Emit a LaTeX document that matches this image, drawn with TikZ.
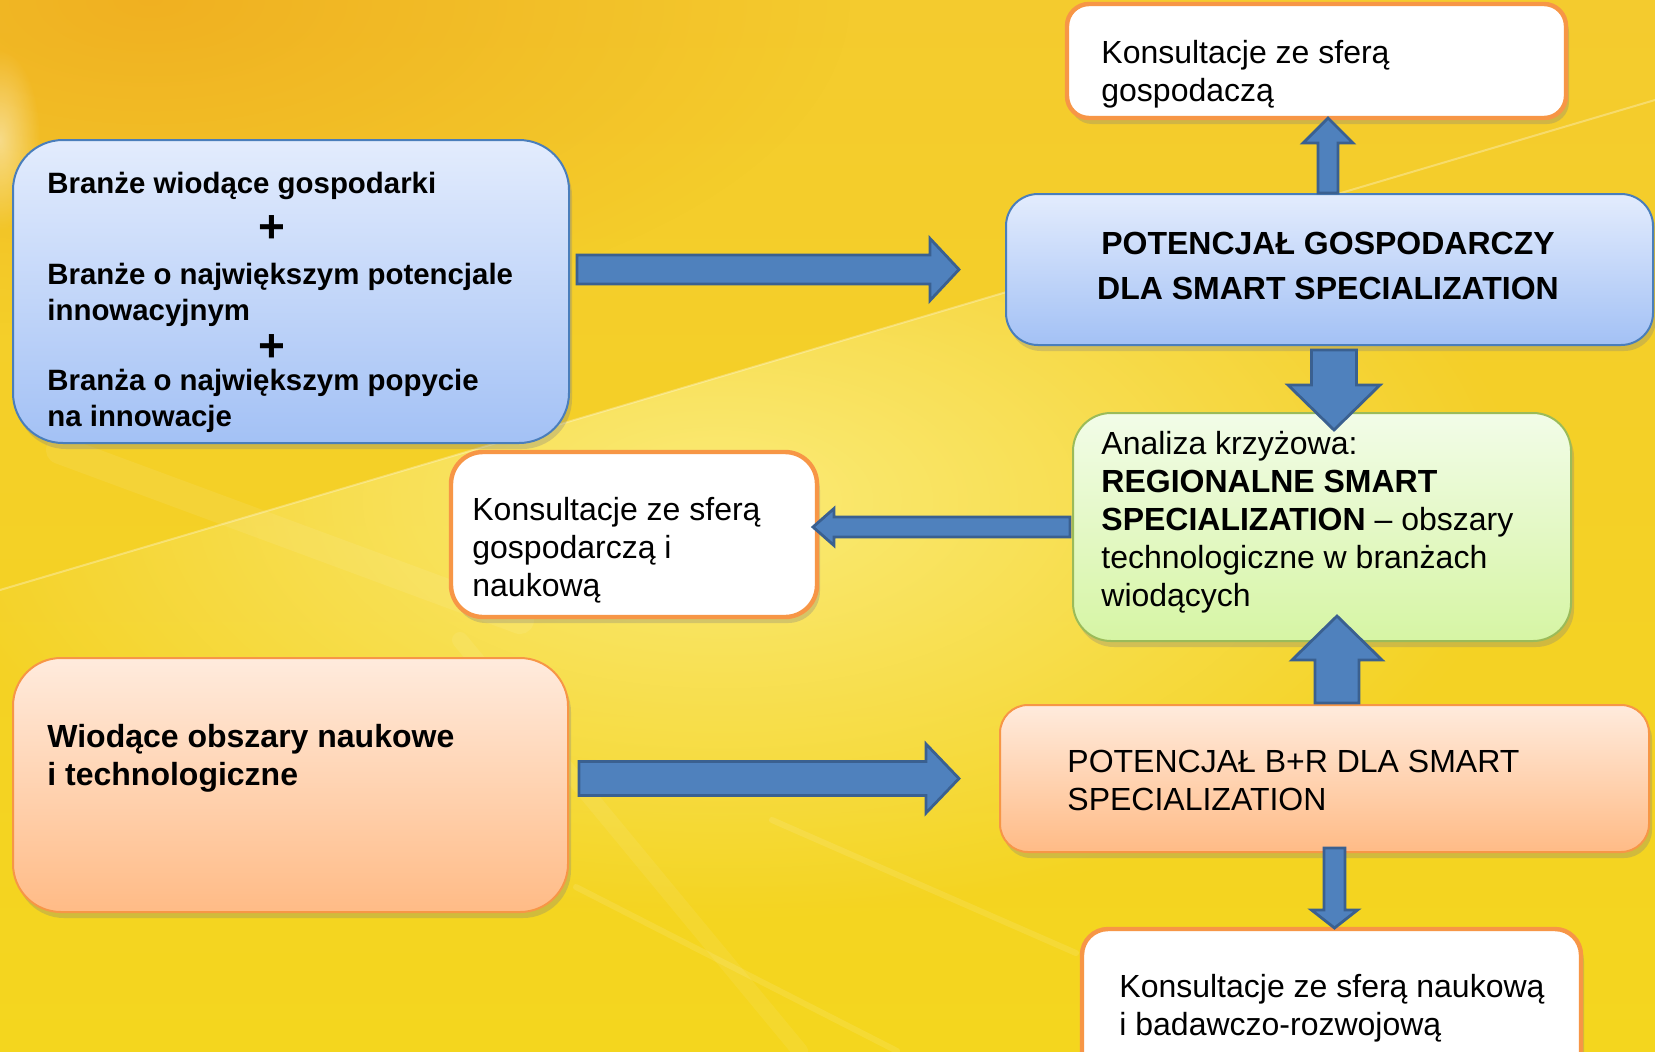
\documentclass[tikz,border=0pt]{standalone}
\usepackage{fontspec}
\setmainfont{Liberation Sans}
\usetikzlibrary{calc,shadows,fadings}
\definecolor{arrfill}{HTML}{4F81BD}
\definecolor{arrline}{HTML}{3A6090}
\definecolor{bluetop}{HTML}{E3ECFD}
\definecolor{bluebot}{HTML}{A3C1F5}
\definecolor{blueline}{HTML}{4A7EBB}
\definecolor{orgtop}{HTML}{FFEBDD}
\definecolor{orgbot}{HTML}{FFBB86}
\definecolor{orgline}{HTML}{F79646}
\definecolor{grntop}{HTML}{F2FCE8}
\definecolor{grnbot}{HTML}{D6F5A4}
\definecolor{grnline}{HTML}{9BBB59}
\definecolor{bgtop}{HTML}{F4CB2E}
\definecolor{bgmid}{HTML}{F7DC38}
\definecolor{bgbot}{HTML}{F4D61E}
\definecolor{bgcorner}{HTML}{EFAA1E}
\definecolor{bglight}{HTML}{FCEE80}
\tikzfading[name=softglow, inner color=transparent!0, outer color=transparent!100]
\newcommand\blockarrow[5]{%
  \coordinate (ba-h) at ($(#2)!#5!(#1)$);
  \draw[blockarr] ($(#1)!#3!90:(#2)$) -- ($(ba-h)!#3!-90:(#1)$) -- ($(ba-h)!#4!-90:(#1)$) -- (#2) -- ($(ba-h)!#4!90:(#1)$) -- ($(ba-h)!#3!90:(#1)$) -- ($(#1)!#3!-90:(#2)$) -- cycle;}
\tikzset{
  box/.style={rectangle, inner sep=0pt, outer sep=0pt, drop shadow={shadow xshift=1.5pt, shadow yshift=-3pt, opacity=0.3}},
  bluebox/.style={box, top color=bluetop, bottom color=bluebot, draw=blueline, line width=1pt},
  orangebox/.style={box, top color=orgtop, bottom color=orgbot, draw=orgline, line width=1pt},
  greenbox/.style={box, top color=grntop, bottom color=grnbot, draw=grnline, line width=1pt},
  whitebox/.style={box, fill=white, draw=orgline, line width=2.2pt},
  blockarr/.style={fill=arrfill, draw=arrline, line width=1.4pt},
  txt/.style={anchor=base west, inner sep=0pt, font=\fontsize{16}{19}\selectfont},
  btxt/.style={anchor=base west, inner sep=0pt, font=\fontsize{14.7}{17.5}\selectfont\bfseries},
  plus/.style={anchor=center, inner sep=0pt, font=\fontsize{23}{23}\selectfont\bfseries},
  ray/.style={white, line cap=round},
}
\begin{document}
\begin{tikzpicture}[x=0.5pt,y=-0.5pt]
\useasboundingbox (0,0) rectangle (1655,1051);
% background
\shade[top color=bgtop, middle color=bgmid, bottom color=bgbot] (0,0) rectangle (1655,1051);
\begin{scope}
\clip (0,0) rectangle (1655,1051);
\fill[bgcorner, opacity=0.8, path fading=softglow] (150,0) ellipse [x radius=700, y radius=330];
\fill[white, opacity=0.45, path fading=softglow] (0,140) ellipse [x radius=40, y radius=90];
\begin{scope}
\clip (0,590) -- (1655,100) -- (1655,1051) -- (0,1051) -- cycle;
\fill[bglight, opacity=0.9, path fading=softglow] (720,500) ellipse [x radius=800, y radius=420];
\end{scope}
\draw[ray, opacity=0.3, line width=1pt] (0,590) -- (1655,100);
\draw[ray, opacity=0.08, line width=14pt] (60,450) -- (520,620);
\draw[ray, opacity=0.1, line width=3pt] (576,887) -- (897,1051);
\draw[ray, opacity=0.1, line width=3pt] (772,820) -- (1076,953);
\draw[ray, opacity=0.07, line width=8pt] (460,640) -- (800,1051);
\end{scope}
% boxes
\node[bluebox, minimum width=278pt, minimum height=151.5pt, rounded corners=25pt] (A) at (291,291.5) {};
\node[bluebox, minimum width=323.5pt, minimum height=75.5pt, rounded corners=16pt] (B) at (1329.5,269.5) {};
\node[whitebox, minimum width=249.5pt, minimum height=57pt, rounded corners=11pt] (C) at (1316.5,61) {};
\node[greenbox, minimum width=249pt, minimum height=114pt, rounded corners=19pt] (D) at (1322,527) {};
\node[whitebox, minimum width=183pt, minimum height=82.5pt, rounded corners=16pt] (E) at (634,534.5) {};
\node[orangebox, minimum width=277.5pt, minimum height=127pt, rounded corners=24pt] (F) at (290.5,785) {};
\node[orangebox, minimum width=324.5pt, minimum height=73.5pt, rounded corners=14pt] (G) at (1324.5,778.5) {};
\node[whitebox, minimum width=249.5pt, minimum height=80.5pt, rounded corners=13pt] (H) at (1331.5,1009.5) {};
% texts
\node[btxt] (a1) at (47,193) {Branże wiodące gospodarki};
\node[plus] (p1) at (272,229) {+};
\node[btxt] (a2) at (47,284) {Branże o największym potencjale};
\node[btxt] (a3) at (47,320) {innowacyjnym};
\node[plus] (p2) at (272,348) {+};
\node[btxt] (a4) at (47,390) {Branża o największym popycie};
\node[btxt] (a5) at (47,426) {na innowacje};
\node[anchor=base, inner sep=0pt, font=\fontsize{16}{22.5}\selectfont\bfseries] (bt) at (1328,254) {\parbox[t]{320pt}{\centering POTENCJAŁ GOSPODARCZY\\DLA SMART SPECIALIZATION}};
\node[txt] (ct) at (1101,63) {\parbox[t]{240pt}{Konsultacje ze sferą\\gospodaczą}};
\node[txt] (dt) at (1101,454) {\parbox[t]{240pt}{Analiza krzyżowa:\\\textbf{REGIONALNE SMART}\\\textbf{SPECIALIZATION} – obszary\\technologiczne w branżach\\wiodących}};
\node[txt] (et) at (472,520) {\parbox[t]{170pt}{Konsultacje ze sferą\\gospodarczą i\\naukową}};
\node[txt, font=\fontsize{16}{19}\selectfont\bfseries] (ft) at (47,747) {\parbox[t]{260pt}{Wiodące obszary naukowe\\i technologiczne}};
\node[txt] (gt) at (1067,772) {\parbox[t]{300pt}{POTENCJAŁ B+R DLA SMART\\SPECIALIZATION}};
\node[txt] (ht) at (1119,997) {\parbox[t]{240pt}{Konsultacje ze sferą naukową\\i badawczo-rozwojową}};
% arrows
\coordinate (t1) at ($(A.east |- B.west)+(8,0)$);
\coordinate (h1) at ($(B.west)+(-47,0)$);
\blockarrow{t1}{h1}{7.25pt}{15.5pt}{14.5pt}
\coordinate (t2) at ($(F.east |- G.west)+(11,0)$);
\coordinate (h2) at ($(G.west)+(-41,0)$);
\blockarrow{t2}{h2}{8.5pt}{17.25pt}{16.5pt}
\coordinate (t3) at ($(D.west)+(-3,0)$);
\coordinate (h3) at ($(E.east |- D.west)+(-4,0)$);
\blockarrow{t3}{h3}{5pt}{9.25pt}{10.5pt}
\coordinate (t4) at ($(B.north)+(-1.5,-1)$);
\coordinate (h4) at (t4 |- C.south);
\blockarrow{t4}{h4}{5pt}{12.5pt}{12.5pt}
\coordinate (t5) at ($(B.south)+(4.5,5)$);
\coordinate (h5) at ($(t5 |- D.north)+(0,17)$);
\blockarrow{t5}{h5}{11.25pt}{23pt}{22.5pt}
\coordinate (t6) at ($(G.north)+(12.5,-2)$);
\coordinate (h6) at ($(t6 |- D.south)+(0,-25)$);
\blockarrow{t6}{h6}{11pt}{22.5pt}{22pt}
\coordinate (t7) at ($(G.south)+(10,-4)$);
\coordinate (h7) at ($(t7 |- H.north)+(0,-1)$);
\blockarrow{t7}{h7}{5.25pt}{11.5pt}{9pt}
\end{tikzpicture}
\end{document}
